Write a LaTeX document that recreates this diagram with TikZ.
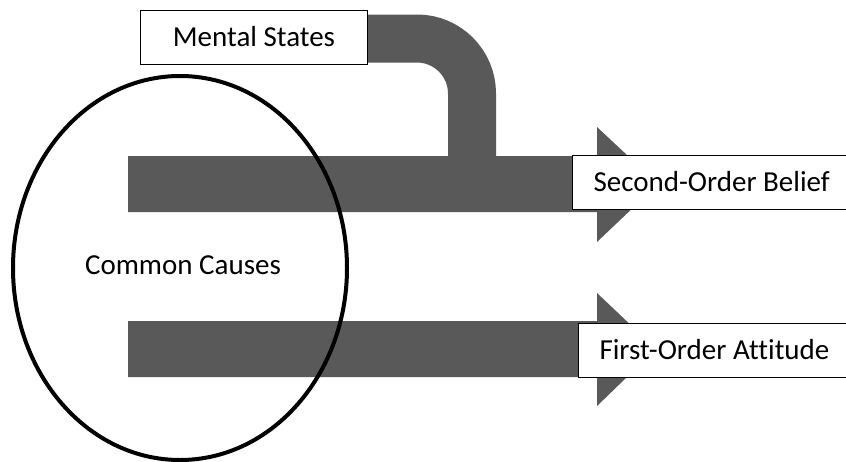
\documentclass[tikz,border=0pt]{standalone}
\usepackage{fontspec}
\setmainfont{Carlito}[Ligatures={NoCommon}]
\usetikzlibrary{shapes.geometric,backgrounds}
\definecolor{band}{HTML}{595959}
\begin{document}
\begin{tikzpicture}[x=1pt,y=-1pt,
  lbl/.style={draw=black,line width=1pt,fill=white,font=\fontsize{29}{34}\selectfont,inner sep=0pt,anchor=west,minimum height=54pt},
  bandline/.style={draw=band,line width=48pt}]
\useasboundingbox (0,0) rectangle (846,461);
% nodes
\node[lbl,minimum width=227pt] (ms) at (140,37) {Mental States};
\node[lbl] (sob) at (572,182) {\makebox[300pt][l]{\hspace*{21pt}Second-Order Belief}};
\node[lbl] (foa) at (578,350) {\makebox[300pt][l]{\hspace*{21pt}First-Order Attitude}};
\coordinate (join) at (472,157);
\begin{scope}[on background layer]
% arrows
\fill[band] (128,156) -- (597,156) -- (597,127) -- (658,184) -- (597,242) -- (597,212) -- (128,212) -- cycle;
\fill[band] (128,321) -- (597,321) -- (597,293) -- (656,349) -- (597,406) -- (597,377) -- (128,377) -- cycle;
\draw[bandline,rounded corners=55pt] ([xshift=-5pt]ms.east |- 0,38.5) -- (472,38.5) -- (join);
\end{scope}
\node[draw=black,line width=4pt,ellipse,minimum width=334pt,minimum height=384pt,inner sep=0pt] (cc) at (180,268) {};
\node[font=\fontsize{29}{34}\selectfont] (cct) at (183,265) {Common Causes};
\end{tikzpicture}
\end{document}
